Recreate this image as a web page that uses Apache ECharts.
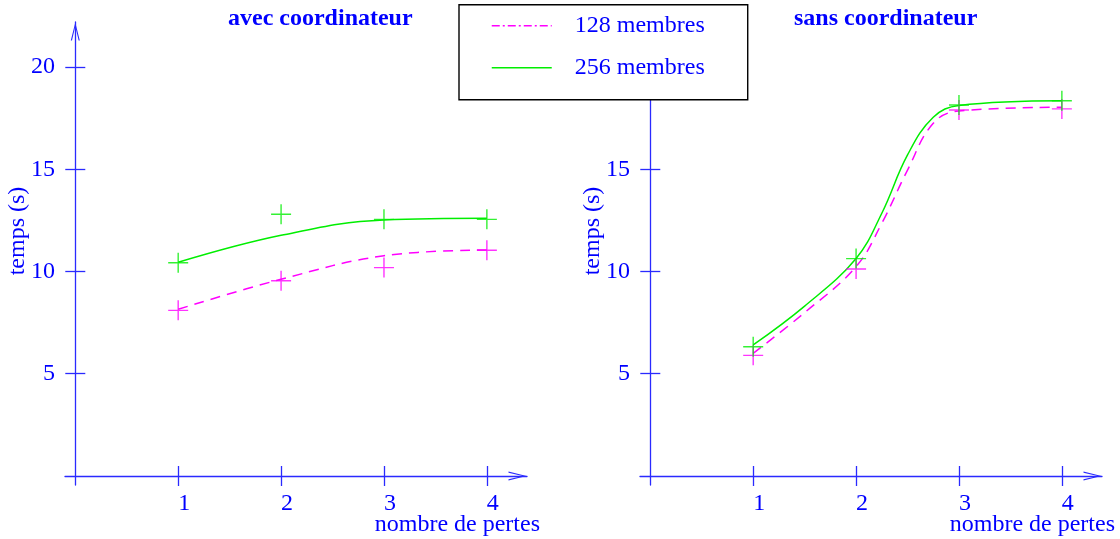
<!DOCTYPE html>
<html><head><meta charset="utf-8">
<script src="https://cdn.jsdelivr.net/npm/echarts@6/dist/echarts.min.js"></script>
<style>html,body{margin:0;padding:0;background:#fff}#c{width:1120px;height:539px}</style>
</head><body><div id="c"></div>
<script>
// ---- data ----
const pertes = [1, 2, 3, 4];
const xTicks = [1, 2, 3, 4];
const yTicks = [5, 10, 15, 20];
const panelTitles = ['avec coordinateur', 'sans coordinateur'];
const seriesNames = ['128 membres', '256 membres'];
// avec coordinateur : measured points (+) and fitted curves
const avec128Points = [8.10, 9.55, 10.19, 11.04];
const avec256Points = [10.43, 12.80, 12.55, 12.55];
const avecCurveX = [1, 2, 3, 4];
const avec128Curve = [8.15, 9.62, 10.77, 11.05];
const avec256Curve = [10.45, 11.77, 12.52, 12.60];
// sans coordinateur
const sans128Points = [5.90, 10.12, 17.90, 17.95];
const sans256Points = [6.32, 10.63, 18.14, 18.35];
const sansCurveX = [1, 1.5, 2, 2.25, 2.5, 2.75, 3, 4];
const sans128Curve = [6.00, 7.99, 10.24, 12.36, 14.96, 17.25, 17.85, 18.03];
const sans256Curve = [6.41, 8.31, 10.64, 12.85, 15.70, 17.54, 18.12, 18.35];

// ---- style ----
const FONT = 'Liberation Serif';
const TEXT = '#0000ff';
const AXIS = '#2a2aff';
const MAGENTA = '#ff00ff';
const GREEN = '#00ee00';
const PLUS = 'path://M0,9.3H20V10.7H0ZM9.3,0H10.7V20H9.3Z';
const ARROW = 'path://M0,20L5,0L10,20L8.7,20L5,4.5L1.3,20Z';

const pair = (xs, ys) => xs.map((x, i) => [x, ys[i]]);

const grids = [
  {left: 65, top: 22, width: 462, height: 463, containLabel: false, outerBoundsMode: 'none'},
  {left: 640, top: 22, width: 462, height: 463, containLabel: false, outerBoundsMode: 'none'}
];
const xAxes = [], yAxes = [], titles = [], series = [];
const panels = [
  {p128: avec128Points, p256: avec256Points, cx: avecCurveX, c128: avec128Curve, c256: avec256Curve, titleLeft: 228},
  {p128: sans128Points, p256: sans256Points, cx: sansCurveX, c128: sans128Curve, c256: sans256Curve, titleLeft: 794}
];
panels.forEach((pn, g) => {
  const common = {type: 'value', gridIndex: g, splitLine: {show: false}, nameMoveOverlap: false};
  xAxes.push(Object.assign({}, common, {
    min: -0.1, max: 4.39, position: 'bottom',
    axisLine: {show: true, onZero: true, lineStyle: {color: AXIS, width: 1.3},
      symbol: ['none', ARROW], symbolSize: [9, 19], symbolOffset: [0, -9.5]},
    axisTick: {show: true, length: 10, customValues: xTicks, lineStyle: {color: AXIS, width: 1.3}},
    axisLabel: {show: true, customValues: xTicks, margin: 7, padding: [0, 0, 0, 12],
      fontFamily: FONT, fontSize: 24, color: TEXT},
    name: 'nombre de pertes', nameLocation: 'end', nameGap: 13,
    nameTextStyle: {fontFamily: FONT, fontSize: 24, color: TEXT, align: 'right', verticalAlign: 'top', padding: [37, 0, 0, 0]}
  }));
  xAxes.push(Object.assign({}, common, {
    min: -0.1, max: 4.39, position: 'top',
    axisLine: {show: false, onZero: true},
    axisTick: {show: true, length: 10, customValues: xTicks, lineStyle: {color: AXIS, width: 1.3}},
    axisLabel: {show: false}
  }));
  yAxes.push(Object.assign({}, common, {
    min: -0.44, max: 22.2, position: 'left',
    axisLine: {show: true, onZero: true, lineStyle: {color: AXIS, width: 1.3},
      symbol: ['none', ARROW], symbolSize: [9, 19], symbolOffset: [0, -9.5]},
    axisTick: {show: true, length: 10, customValues: yTicks, lineStyle: {color: AXIS, width: 1.3}},
    axisLabel: {show: true, customValues: yTicks, margin: 10, fontFamily: FONT, fontSize: 24, color: TEXT},
    name: 'temps (s)', nameLocation: 'middle', nameRotate: 90, nameGap: 35,
    nameTextStyle: {fontFamily: FONT, fontSize: 24, color: TEXT, padding: [0, 0, 0, 45]}
  }));
  yAxes.push(Object.assign({}, common, {
    min: -0.44, max: 22.2, position: 'right',
    axisLine: {show: false, onZero: true},
    axisTick: {show: true, length: 10, customValues: yTicks, lineStyle: {color: AXIS, width: 1.3}},
    axisLabel: {show: false}
  }));
  titles.push({text: panelTitles[g], left: pn.titleLeft, top: 7, padding: 0,
    textStyle: {fontFamily: FONT, fontWeight: 'bold', fontSize: 24, color: TEXT}});
  const xi = 2 * g, yi = 2 * g;
  series.push({
    name: seriesNames[0], type: 'line', xAxisIndex: xi, yAxisIndex: yi, smooth: 0.4,
    symbol: 'none', data: pair(pn.cx, pn.c128), color: MAGENTA,
    lineStyle: {color: MAGENTA, width: 1.5, type: [10, 7]}, z: 3
  });
  series.push({
    name: seriesNames[1], type: 'line', xAxisIndex: xi, yAxisIndex: yi, smooth: 0.4,
    symbol: 'none', data: pair(pn.cx, pn.c256), color: GREEN,
    lineStyle: {color: GREEN, width: 1.5, type: 'solid'}, z: 3
  });
  series.push({
    name: seriesNames[0] + ' (mesures)', type: 'scatter', xAxisIndex: xi, yAxisIndex: yi,
    symbol: PLUS, symbolSize: 20, data: pair(pertes, pn.p128), itemStyle: {color: MAGENTA}, z: 4
  });
  series.push({
    name: seriesNames[1] + ' (mesures)', type: 'scatter', xAxisIndex: xi, yAxisIndex: yi,
    symbol: PLUS, symbolSize: 20, data: pair(pertes, pn.p256), itemStyle: {color: GREEN}, z: 4
  });
});

const chart = echarts.init(document.getElementById('c'), null, {renderer: 'canvas'});
chart.setOption({
  animation: false,
  backgroundColor: '#fff',
  title: titles,
  legend: {
    data: [
      {name: seriesNames[0], lineStyle: {type: [8, 3, 2, 3], width: 1.5, color: MAGENTA}},
      {name: seriesNames[1], lineStyle: {type: 'solid', width: 1.5, color: GREEN}}
    ],
    itemStyle: {opacity: 0, color: 'rgba(0,0,0,0)', borderWidth: 0},
    orient: 'vertical', left: 459, top: 4.7,
    padding: [9, 43, 20, 32], itemWidth: 60, itemHeight: 14, itemGap: 18,
    backgroundColor: '#fff', borderColor: '#000', borderWidth: 1.4, borderRadius: 0,
    textStyle: {fontFamily: FONT, fontSize: 24, color: TEXT, padding: [2, 0, 0, 18]},
    z: 10
  },
  grid: grids,
  xAxis: xAxes,
  yAxis: yAxes,
  series: series
});
</script></body></html>
